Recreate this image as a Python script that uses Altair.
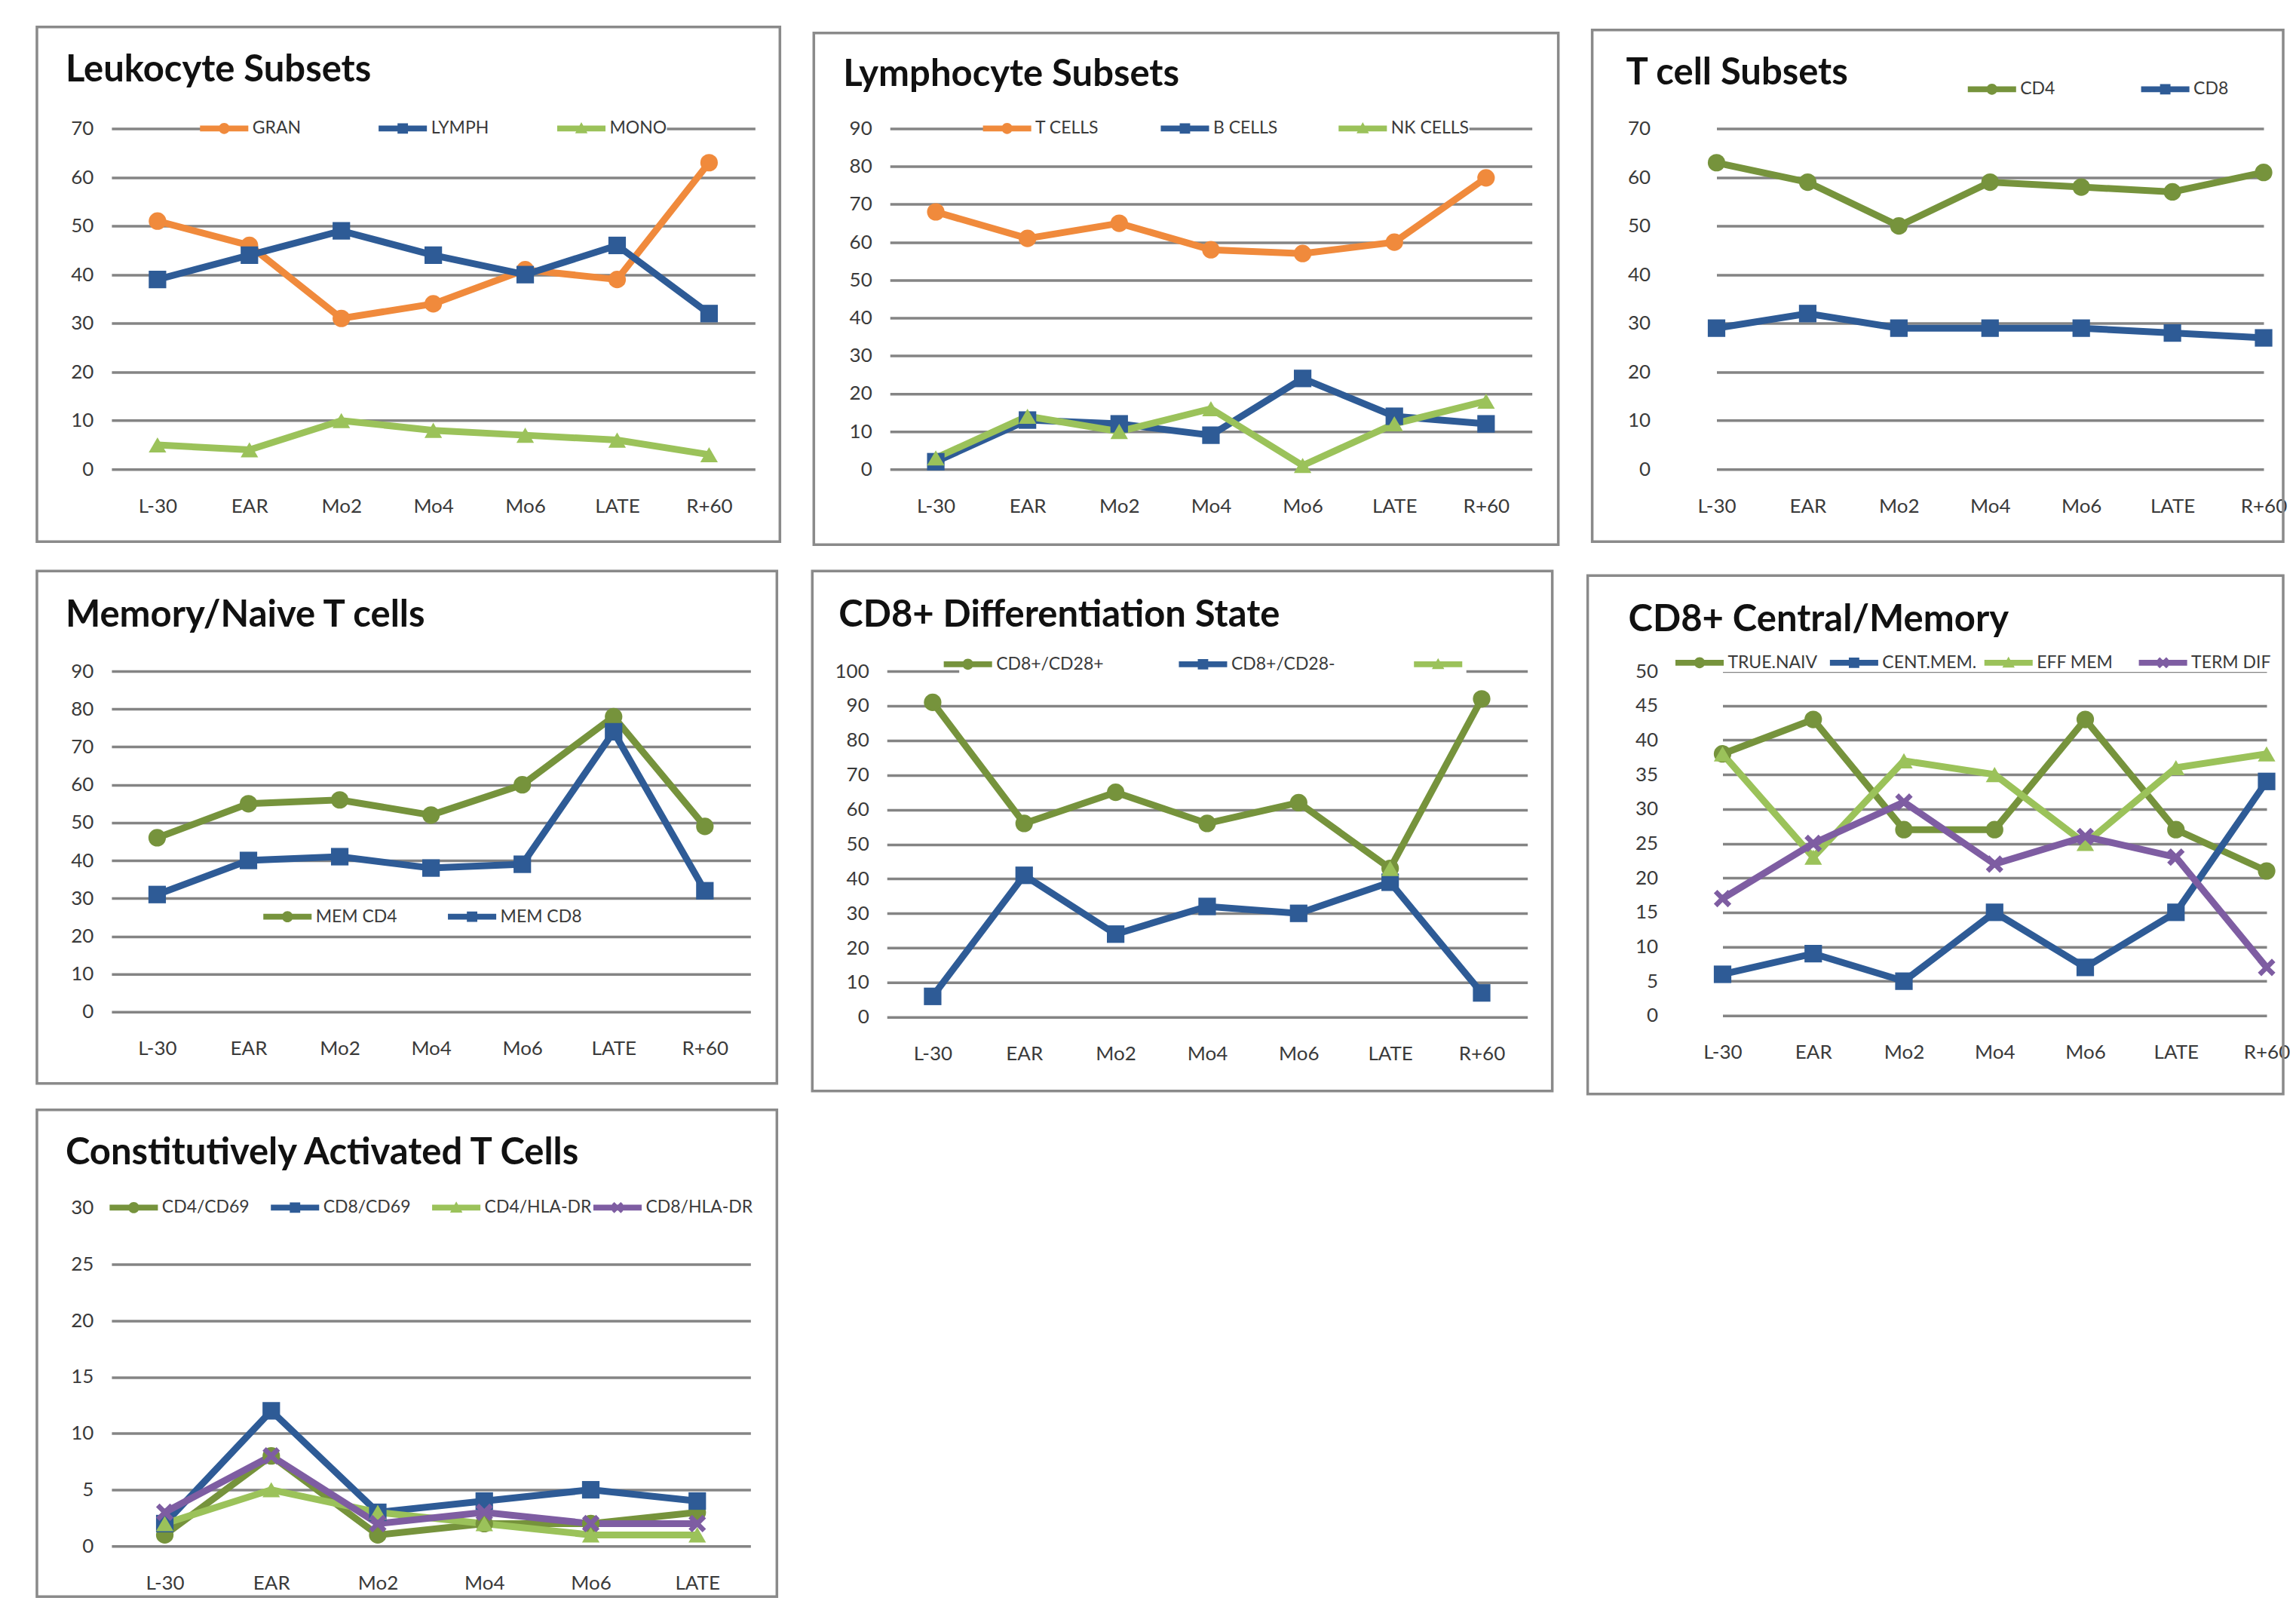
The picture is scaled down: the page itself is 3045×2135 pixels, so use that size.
import altair as alt
import pandas as pd

# ---------------- data ----------------
CATS7 = ["L-30", "EAR", "Mo2", "Mo4", "Mo6", "LATE", "R+60"]
CATS6 = ["L-30", "EAR", "Mo2", "Mo4", "Mo6", "LATE"]

leuko_names = ["GRAN", "LYMPH", "MONO"]
leuko_gran = [51, 46, 31, 34, 41, 39, 63]
leuko_lymph = [39, 44, 49, 44, 40, 46, 32]
leuko_mono = [5, 4, 10, 8, 7, 6, 3]

lymph_names = ["T CELLS", "B CELLS", "NK CELLS"]
lymph_t = [68, 61, 65, 58, 57, 60, 77]
lymph_b = [2, 13, 12, 9, 24, 14, 12]
lymph_nk = [3, 14, 10, 16, 1, 12, 18]

tcell_names = ["CD4", "CD8"]
tcell_cd4 = [63, 59, 50, 59, 58, 57, 61]
tcell_cd8 = [29, 32, 29, 29, 29, 28, 27]

mem_names = ["MEM CD4", "MEM CD8"]
mem_cd4 = [46, 55, 56, 52, 60, 78, 49]
mem_cd8 = [31, 40, 41, 38, 39, 74, 32]

diff_names = ["CD8+/CD28+", "CD8+/CD28-", " "]
diff_pos = [91, 56, 65, 56, 62, 43, 92]
diff_neg = [6, 41, 24, 32, 30, 39, 7]
diff_third = [None, None, None, None, None, 43, None]

cm_names = ["TRUE.NAIV", "CENT.MEM.", "EFF MEM", "TERM DIF"]
cm_naive = [38, 43, 27, 27, 43, 27, 21]
cm_central = [6, 9, 5, 15, 7, 15, 34]
cm_eff = [38, 23, 37, 35, 25, 36, 38]
cm_term = [17, 25, 31, 22, 26, 23, 7]

act_names = ["CD4/CD69", "CD8/CD69", "CD4/HLA-DR", "CD8/HLA-DR"]
act_cd4_69 = [1, 8, 1, 2, 2, 3]
act_cd8_69 = [2, 12, 3, 4, 5, 4]
act_cd4_hla = [2, 5, 3, 2, 1, 1]
act_cd8_hla = [3, 8, 2, 3, 2, 2]

# ---------------- styles ----------------
ORANGE = "#F08A3C"
BLUE = "#2E5B96"
OLIVE = "#76933C"
LGREEN = "#9BC25A"
PURPLE = "#7E5DA2"
XPATH = ("M-1,-0.6L-0.6,-1L0,-0.4L0.6,-1L1,-0.6L0.4,0L1,0.6L0.6,1"
         "L0,0.4L-0.6,1L-1,0.6L-0.4,0Z")
FONT = "Lato"
LABEL_COLOR = "#3a3a3a"
GRID_COLOR = "#848484"
SYM = 300
TITLE_FS = 49
AXIS_FS = 26
ZW = "\u200b"

# legend symbols: a short line segment with the marker on it (clockwise paths)
SEG = "M-3.7,-0.45H3.7V0.45H-3.7Z "
LEG_SHAPES = {
    "circle": SEG + "M-0.85,0A0.85,0.85,0,1,1,0.85,0A0.85,0.85,0,1,1,-0.85,0Z",
    "square": SEG + "M-0.8,-0.8H0.8V0.8H-0.8Z",
    "triangle-up": SEG + "M0,-0.95L0.95,0.75H-0.95Z",
    XPATH: SEG + ("M-0.85,-0.5L-0.5,-0.85L0,-0.35L0.5,-0.85L0.85,-0.5"
                  "L0.35,0L0.85,0.5L0.5,0.85L0,0.35L-0.5,0.85L-0.85,0.5"
                  "L-0.35,0Z"),
}


def panel(title, cats, names, series, colors, shapes, ymax, ystep,
          W, H, box, title_dx, title_c, leg_cx, leg_cy, leg_cp,
          x_range=None):
    rows = []
    for name, vals in zip(names, series):
        for i, (c, v) in enumerate(zip(cats, vals)):
            if v is None:
                continue
            rows.append({"cat": c, "idx": i, "value": v,
                         "series": name, "leg": name + ZW})
    df = pd.DataFrame(rows)
    l, r, t, b = box

    if x_range is None:
        xscale = alt.Scale(type="point", padding=0.5)
    else:
        xscale = alt.Scale(type="point", range=x_range, padding=0)

    X = alt.X("cat:N", sort=cats, scale=xscale,
              axis=alt.Axis(title=None, labelAngle=0, domain=False,
                            ticks=False, tickSize=0, grid=False,
                            labelPadding=36, labelFont=FONT,
                            labelFontSize=AXIS_FS, labelColor=LABEL_COLOR))
    Y = alt.Y("value:Q",
              scale=alt.Scale(domain=[0, ymax], nice=False, zero=True),
              axis=alt.Axis(title=None, values=list(range(0, ymax + 1, ystep)),
                            domain=False, ticks=False, tickSize=0,
                            grid=True, gridColor=GRID_COLOR, gridWidth=3.5,
                            labelPadding=24, labelFont=FONT,
                            labelFontSize=AXIS_FS, labelColor=LABEL_COLOR))

    n = len(names)
    leg = alt.Legend(orient="none", legendX=leg_cx - 9, legendY=leg_cy - 12,
                     direction="horizontal", columns=n, gridAlign="all",
                     columnPadding=leg_cp, symbolSize=SYM,
                     symbolStrokeWidth=0, labelFont=FONT, labelFontSize=23,
                     labelColor=LABEL_COLOR, labelOffset=26,
                     labelExpr="replace(datum.label, '\u200b', '')",
                     title=None, padding=0, fillColor="white")

    border = alt.Chart(alt.Data(values=[{"a": 1}])).mark_rect(
        fill="transparent", stroke="#8a8a8a", strokeWidth=3.5
    ).encode(x=alt.value(-l), x2=alt.value(W + r),
             y=alt.value(-t), y2=alt.value(H + b))

    base = alt.Chart(df)
    lines = base.mark_line(strokeWidth=9).encode(
        x=X, y=Y, order="idx:Q",
        stroke=alt.Stroke("series:N",
                          scale=alt.Scale(domain=names, range=colors),
                          legend=None))
    pts = base.mark_point(filled=True, size=540, opacity=1,
                          strokeWidth=0).encode(
        x=X, y=Y,
        fill=alt.Fill("series:N", scale=alt.Scale(domain=names, range=colors),
                      legend=None),
        shape=alt.Shape("series:N",
                        scale=alt.Scale(domain=names, range=shapes),
                        legend=None))
    leg_domain = [nm + ZW for nm in names]
    legend_layer = base.transform_filter("datum.value < -1").mark_point(
        filled=True, size=SYM, opacity=1, strokeWidth=0).encode(
        x=X, y=Y,
        fill=alt.Fill("leg:N", scale=alt.Scale(domain=leg_domain,
                                               range=colors), legend=leg),
        shape=alt.Shape("leg:N",
                        scale=alt.Scale(domain=leg_domain,
                                        range=[LEG_SHAPES[s] for s in shapes]),
                        legend=leg))

    return alt.layer(border, lines, pts, legend_layer).resolve_scale(
        fill="independent", shape="independent"
    ).resolve_legend(
        fill="independent", shape="independent"
    ).properties(
        width=W, height=H,
        title=alt.TitleParams(text=title, anchor="start", frame="group",
                              dx=title_dx,
                              offset=-(title_c + TITLE_FS / 2) - t - 4,
                              font=FONT, fontSize=TITLE_FS, fontWeight="bold",
                              color="#111111"))


p1 = panel("Leukocyte Subsets", CATS7, leuko_names,
           [leuko_gran, leuko_lymph, leuko_mono],
           [ORANGE, BLUE, LGREEN], ["circle", "square", "triangle-up"],
           70, 10, 854, 452, (99, 33, 135, 96), -61, -79, 147, 0, 90)
p2 = panel("Lymphocyte Subsets", CATS7, lymph_names,
           [lymph_t, lymph_b, lymph_nk],
           [ORANGE, BLUE, LGREEN], ["circle", "square", "triangle-up"],
           90, 10, 852, 452, (101, 35, 127, 100), -62, -73, 153, 0, 62)
p3 = panel("T cell Subsets", CATS7, tcell_names,
           [tcell_cd4, tcell_cd8],
           [OLIVE, BLUE], ["circle", "square"],
           70, 10, 810, 452, (101, 6, 131, 96), -56, -75, 427, -52, 113,
           x_range=[64, 790])
p4 = panel("Memory/Naive T cells", CATS7, mem_names,
           [mem_cd4, mem_cd8],
           [OLIVE, BLUE], ["circle", "square"],
           90, 10, 848, 452, (99, 35, 133, 95), -61, -76, 231, 326, 66)
p5 = panel("CD8+ Differentiation State", CATS7, diff_names,
           [diff_pos, diff_neg, diff_third],
           [OLIVE, BLUE, LGREEN], ["circle", "square", "triangle-up"],
           100, 10, 850, 459, (99, 33, 133, 98), -64, -76, 105, -9, 99)
p6 = panel("CD8+ Central/Memory", CATS7, cm_names,
           [cm_naive, cm_central, cm_eff, cm_term],
           [OLIVE, BLUE, LGREEN, PURPLE],
           ["circle", "square", "triangle-up", XPATH],
           50, 5, 800, 457, (117, 6, 127, 104), -63, -70, 29, -11, 9,
           x_range=[62, 784])
p7 = panel("Constitutively Activated T Cells", CATS6, act_names,
           [act_cd4_69, act_cd8_69, act_cd4_hla, act_cd8_hla],
           [OLIVE, BLUE, LGREEN, PURPLE],
           ["circle", "square", "triangle-up", XPATH],
           30, 5, 848, 449, (99, 35, 130, 67), -61, -74, 27, 0, 2)

IND = dict(x="independent", y="independent", stroke="independent",
           fill="independent", shape="independent")
LIND = dict(stroke="independent", fill="independent", shape="independent")


def row(*charts, spacing):
    return alt.hconcat(*charts, spacing=spacing).resolve_scale(
        **IND).resolve_legend(**LIND)


chart = alt.vconcat(
    row(p1, p2, p3, spacing=41),
    alt.vconcat(
        row(p4, p5, p6, spacing=43),
        row(p7, spacing=10),
        spacing=17,
    ).resolve_scale(**IND).resolve_legend(**LIND),
    spacing=31,
).properties(
    padding={"left": 39, "top": 25, "right": 0, "bottom": 0},
    background="white",
).configure_view(stroke=None).resolve_scale(**IND).resolve_legend(**LIND)

chart.save("out.html", embed_options={"renderer": "svg", "actions": False})
